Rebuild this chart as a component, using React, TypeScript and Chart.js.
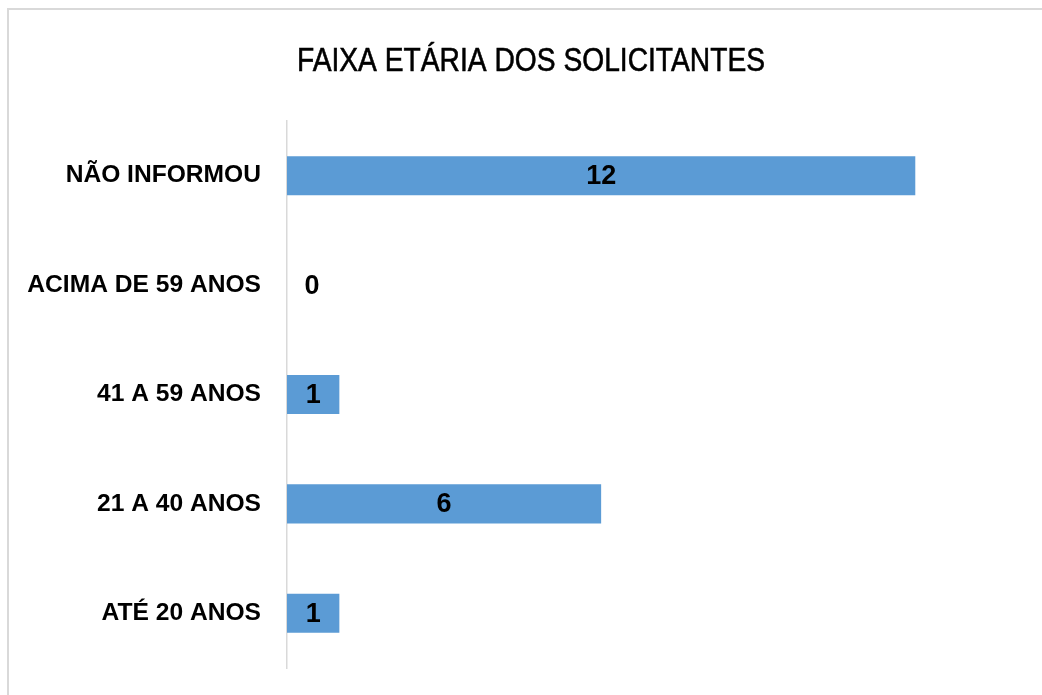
import React, { useEffect, useRef } from "react";
import { Chart, registerables } from "chart.js";

Chart.register(...registerables);

const TITLE = "FAIXA ETÁRIA DOS SOLICITANTES";
const categories = ["NÃO INFORMOU", "ACIMA DE 59 ANOS", "41 A 59 ANOS", "21 A 40 ANOS", "ATÉ 20 ANOS"];
const values = [12, 0, 1, 6, 1];
const xMax = 14;

const BAR_COLOR = "#5B9BD5";
const FONT = "'Liberation Sans', Arial, sans-serif";

const decorPlugin = {
  id: "decor",
  beforeDraw(chart: any) {
    const ctx = chart.ctx;
    ctx.save();
    ctx.fillStyle = "#ffffff";
    ctx.fillRect(0, 0, chart.width, chart.height);
    ctx.fillStyle = "#d9d9d9";
    ctx.fillRect(7, 8, 2, chart.height);
    ctx.fillRect(7, 8, chart.width, 2);
    // title
    ctx.fillStyle = "#000000";
    ctx.font = `34px ${FONT}`;
    ctx.textAlign = "center";
    ctx.textBaseline = "alphabetic";
    const w = ctx.measureText(TITLE).width;
    const sx = 468 / w;
    ctx.translate(531, 71);
    ctx.scale(sx, 1);
    ctx.lineWidth = 0.6;
    ctx.strokeStyle = "#000000";
    ctx.fillText(TITLE, 0, 0);
    ctx.strokeText(TITLE, 0, 0);
    ctx.restore();
  },
  afterDatasetsDraw(chart: any) {
    const ctx = chart.ctx;
    const meta = chart.getDatasetMeta(0);
    const xScale = chart.scales.x;
    const base = xScale.getPixelForValue(0);
    ctx.save();
    ctx.fillStyle = "#000000";
    ctx.font = `bold 27px ${FONT}`;
    ctx.textAlign = "center";
    ctx.textBaseline = "middle";
    meta.data.forEach((bar: any, i: number) => {
      const v = values[i];
      const x = v > 0 ? (base + bar.x) / 2 : base + 25;
      ctx.fillText(String(v), x, bar.y + 1);
    });
    ctx.restore();
  },
};

export default function App() {
  const ref = useRef<HTMLCanvasElement | null>(null);
  useEffect(() => {
    if (!ref.current) return;
    const chart = new Chart(ref.current, {
      type: "bar",
      data: {
        labels: categories,
        datasets: [
          {
            data: values,
            backgroundColor: BAR_COLOR,
            borderWidth: 0,
            categoryPercentage: 1,
            barPercentage: 0.357,
          },
        ],
      },
      options: {
        indexAxis: "y",
        animation: false,
        responsive: false,
        maintainAspectRatio: false,
        layout: { padding: { top: 121, bottom: 27, left: 0, right: 22 } },
        plugins: {
          legend: { display: false },
          title: { display: false },
          tooltip: { enabled: false },
        },
        scales: {
          x: {
            display: false,
            min: 0,
            max: xMax,
          },
          y: {
            grid: { display: false, drawTicks: false },
            border: { display: true, color: "#d9d9d9", width: 1.5 },
            ticks: {
              color: "#000000",
              padding: 26,
              font: { family: FONT, size: 24.6, weight: "bold" },
            },
            afterFit(scale: any) {
              scale.width = 287;
              scale.paddingTop = 0;
              scale.paddingBottom = 0;
            },
          },
        },
      },
      plugins: [decorPlugin],
    });
    return () => chart.destroy();
  }, []);
  return (
    <div style={{ position: "fixed", left: 0, top: 0, width: 1042, height: 695, background: "#fff" }}>
      <canvas ref={ref} width={1042} height={695} style={{ display: "block" }} />
    </div>
  );
}
